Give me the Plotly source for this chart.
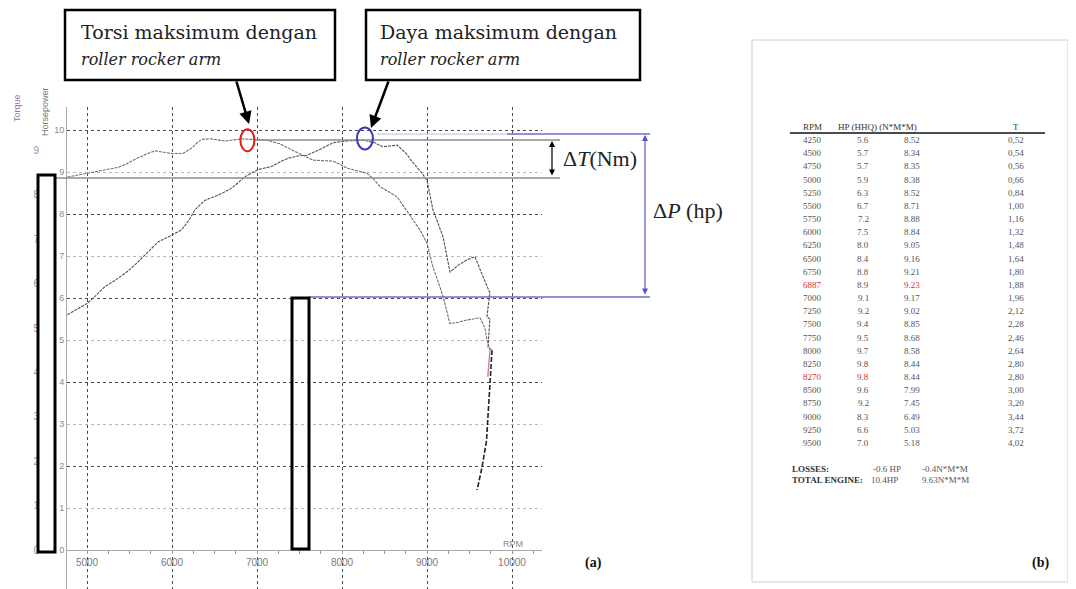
import plotly.graph_objects as go

# The page body has an 8px margin, so the figure is drawn 8px in from the window edge.
SCREEN_W, SCREEN_H = 1076, 589
OFF = 8
W, H = SCREEN_W - OFF, SCREEN_H - OFF

# ---------------- data ----------------
hp_rpm = [4770, 4900, 5000, 5100, 5210, 5330, 5450, 5570, 5680, 5840, 6000, 6110, 6200, 6270,
          6390, 6545, 6700, 6860, 7015, 7170, 7280, 7370, 7480, 7590, 7700, 7800, 7900, 8060,
          8250, 8380, 8480, 8560, 8650, 8750, 8840, 8930, 9000, 9070, 9190, 9270, 9380, 9480,
          9565, 9640, 9740, 9720, 9705, 9740, 9718, 9765]
hp_val = [5.60, 5.75, 5.87, 6.05, 6.27, 6.42, 6.59, 6.80, 7.02, 7.34, 7.50, 7.62, 7.85, 8.10,
          8.33, 8.45, 8.61, 8.89, 9.06, 9.13, 9.25, 9.33, 9.38, 9.40, 9.50, 9.60, 9.70, 9.74,
          9.76, 9.70, 9.60, 9.62, 9.64, 9.45, 9.21, 9.00, 8.80, 8.10, 7.45, 6.62, 6.80, 6.92,
          6.98, 6.60, 6.12, 5.80, 5.55, 5.50, 4.83, 4.76]
hp_tail_rpm = [9765, 9740, 9700, 9650, 9590]
hp_tail_val = [4.76, 3.80, 2.60, 2.00, 1.43]

tq_rpm = [4770, 4900, 5000, 5100, 5210, 5370, 5470, 5565, 5700, 5800, 5900, 6000, 6130, 6230,
          6300, 6350, 6470, 6550, 6620, 6700, 6820, 6887, 6980, 7100, 7170, 7270, 7380, 7470,
          7565, 7660, 7760, 7890, 7960, 8060, 8180, 8290, 8370, 8450, 8550, 8650, 8740, 8835,
          8920, 9000, 9070, 9130, 9190, 9270, 9370, 9470, 9560, 9624, 9680, 9706, 9741]
tq_val = [8.40, 8.45, 8.48, 8.52, 8.57, 8.62, 8.70, 8.80, 8.92, 8.99, 8.96, 8.93, 8.93, 9.05,
          9.18, 9.25, 9.26, 9.24, 9.21, 9.23, 9.26, 9.25, 9.25, 9.24, 9.20, 9.15, 9.04, 8.96,
          8.88, 8.78, 8.77, 8.76, 8.70, 8.60, 8.54, 8.49, 8.36, 8.18, 8.07, 7.95, 7.70, 7.43,
          7.20, 6.91, 6.37, 6.05, 5.70, 5.10, 5.13, 5.18, 5.20, 5.23, 5.00, 4.73, 4.50]
tq_tail_rpm = [9741, 9730, 9715]
tq_tail_val = [4.50, 4.20, 3.90]

x_ticks = [5000, 6000, 7000, 8000, 9000, 10000]
hp_ticks = list(range(0, 11))
tq_ticks = list(range(0, 10))

table_rpm = ["4250", "4500", "4750", "5000", "5250", "5500", "5750", "6000", "6250", "6500",
             "6750", "6887", "7000", "7250", "7500", "7750", "8000", "8250", "8270", "8500",
             "8750", "9000", "9250", "9500"]
table_hp = ["5.6", "5.7", "5.7", "5.9", "6.3", "6.7", "7.2", "7.5", "8.0", "8.4", "8.8", "8.9",
            "9.1", "9.2", "9.4", "9.5", "9.7", "9.8", "9.8", "9.6", "9.2", "8.3", "6.6", "7.0"]
table_tq = ["8.52", "8.34", "8.35", "8.38", "8.52", "8.71", "8.88", "8.84", "9.05", "9.16",
            "9.21", "9.23", "9.17", "9.02", "8.85", "8.68", "8.58", "8.44", "8.44", "7.99",
            "7.45", "6.49", "5.03", "5.18"]
table_t = ["0,52", "0,54", "0,56", "0,66", "0,84", "1,00", "1,16", "1,32", "1,48", "1,64",
           "1,80", "1,88", "1,96", "2,12", "2,28", "2,46", "2,64", "2,80", "2,80", "3,00",
           "3,20", "3,44", "3,72", "4,02"]
red_cells = {("6887", "rpm"), ("6887", "tq"), ("8270", "rpm"), ("8270", "hp")}

# ---------------- geometry helpers (screen pixel -> paper) ----------------
def fx(x):
    return (x - OFF) / W

def fy(y):
    return 1 - (y - OFF) / H

X_LEFT_PX, X_RIGHT_PX = 67, 542
PX_PER_RPM = 0.085
x_range = [5000 + (X_LEFT_PX - 87) / PX_PER_RPM, 5000 + (X_RIGHT_PX - 87) / PX_PER_RPM]
TOP_PX, ZERO_PX, BOT_PX = 107, 550, SCREEN_H
hp_range = [(ZERO_PX - BOT_PX) / 42.0, (ZERO_PX - TOP_PX) / 42.0]
tq_range = [(ZERO_PX - BOT_PX) / 44.4, (ZERO_PX - TOP_PX) / 44.4]

fig = go.Figure()
fig.add_trace(go.Scatter(x=tq_rpm, y=tq_val, mode="lines", yaxis="y2",
                         line=dict(color="#7a6680", width=1.1, dash="3px,1px")))
fig.add_trace(go.Scatter(x=tq_tail_rpm, y=tq_tail_val, mode="lines", yaxis="y2",
                         line=dict(color="#d070b0", width=1.3)))
fig.add_trace(go.Scatter(x=hp_rpm, y=hp_val, mode="lines", yaxis="y",
                         line=dict(color="#5a4e50", width=1.1, dash="3px,1px")))
fig.add_trace(go.Scatter(x=hp_tail_rpm, y=hp_tail_val, mode="lines", yaxis="y",
                         line=dict(color="#222222", width=1.6, dash="5px,2px")))
fig.add_trace(go.Scatter(x=[None], y=[None], yaxis="y3", hoverinfo="skip"))

grid_dark = "#4a4a4a"
grid_light = "#b8b8b8"

fig.update_layout(
    width=W, height=H,
    margin=dict(l=0, r=0, t=0, b=0, autoexpand=False),
    paper_bgcolor="white", plot_bgcolor="white",
    showlegend=False,
    xaxis=dict(domain=[fx(X_LEFT_PX), fx(X_RIGHT_PX)], range=x_range,
               anchor="free", position=fy(ZERO_PX),
               tickvals=x_ticks, ticktext=[str(v) for v in x_ticks],
               tickfont=dict(size=10, color="#7a7a7a", family="Liberation Sans"),
               showgrid=True, gridcolor=grid_dark, griddash="dot", gridwidth=1.4,
               showline=True, linecolor="#a8a8a8", linewidth=1, zeroline=False,
               ticks="outside", ticklen=3, tickcolor="#999",
               minor=dict(dtick=250, tick0=0, ticks="outside", ticklen=3, tickcolor="#999",
                          showgrid=False)),
    yaxis=dict(domain=[0, fy(TOP_PX)], range=hp_range, anchor="x", side="left",
               tickvals=hp_ticks, ticktext=[str(v) for v in hp_ticks],
               tickfont=dict(size=9, color="#8a8a8a", family="Liberation Sans"),
               showgrid=True, gridcolor=grid_light, griddash="dot", gridwidth=1.2,
               showline=True, linecolor="#a8a8a8", linewidth=1, zeroline=False,
               ticks=""),
    yaxis3=dict(overlaying="y", range=hp_range, anchor="x", side="left",
                tickvals=[0, 2, 4, 6, 8, 10], showticklabels=False,
                showgrid=True, gridcolor=grid_dark, griddash="dot", gridwidth=1.4,
                showline=False, zeroline=False, ticks=""),
    yaxis2=dict(overlaying="y", range=tq_range, anchor="free", position=fx(39), side="left",
                tickvals=tq_ticks, ticktext=[str(v) for v in tq_ticks],
                tickfont=dict(size=10, color="#a088ae", family="Liberation Sans"),
                showgrid=False, showline=False, zeroline=False, ticks=""),
)

shapes = []
ann = []

def text(x, y, t, size=10, color="#444", family="Liberation Serif", xanchor="center", **kw):
    ann.append(dict(x=fx(x), y=fy(y), xref="paper", yref="paper", text=t, showarrow=False,
                    font=dict(size=size, color=color, family=family), xanchor=xanchor,
                    yanchor="middle", **kw))

def line(x0, y0, x1, y1, color, width=1.0, dash="solid"):
    shapes.append(dict(type="line", xref="paper", yref="paper", x0=fx(x0), y0=fy(y0),
                       x1=fx(x1), y1=fy(y1), line=dict(color=color, width=width, dash=dash)))

def rect(x0, y0, x1, y1, color="black", width=3, fill="rgba(0,0,0,0)"):
    shapes.append(dict(type="rect", xref="paper", yref="paper", x0=fx(x0), y0=fy(y0),
                       x1=fx(x1), y1=fy(y1), line=dict(color=color, width=width), fillcolor=fill))

# axis titles
text(17, 108, "Torque", size=9, color="#a070b0", family="Liberation Sans", textangle=-90)
text(45, 112, "Horsepower", size=9, color="#777", family="Liberation Sans", textangle=-90)
text(513, 544, "RPM", size=9, color="#8a8a8a", family="Liberation Sans")

# reference lines
line(255, 140, 560, 140, "#8c8c8c", 1.5)
line(55, 178, 560, 178, "#8c8c8c", 1.5)
line(377, 134, 507, 134, "#b8bce0", 1.0)
line(507, 134, 650, 134, "#6b6bd0", 1.3)
line(309, 297, 650, 297, "#6b6bd0", 1.3)

# black rectangles
rect(38, 175, 55, 552)
rect(292, 298, 309, 549)

# circles at the maxima (data coordinates)
shapes.append(dict(type="circle", xref="x", yref="y2", xsizemode="pixel", ysizemode="pixel",
                   xanchor=6887, yanchor=9.23, x0=-7, x1=7, y0=-11, y1=11,
                   line=dict(color="#e02020", width=2)))
shapes.append(dict(type="circle", xref="x", yref="y", xsizemode="pixel", ysizemode="pixel",
                   xanchor=8270, yanchor=9.8, x0=-8, x1=8, y0=-11, y1=11,
                   line=dict(color="#3a3ab0", width=2)))

# callout boxes
rect(65, 10, 335, 80, width=2.5, fill="white")
rect(366, 10, 640, 80, width=2.5, fill="white")
text(79, 32, "Torsi maksimum dengan", size=19, color="#222", family="DejaVu Serif",
     xanchor="left")
text(79, 59, "<i>roller rocker arm</i>", size=16, color="#222", family="DejaVu Serif",
     xanchor="left")
text(378, 32, "Daya maksimum dengan", size=19, color="#222", family="DejaVu Serif",
     xanchor="left")
text(378, 59, "<i>roller rocker arm</i>", size=16, color="#222", family="DejaVu Serif",
     xanchor="left")

# arrows from callouts
ann.append(dict(x=fx(249), y=fy(124), xref="paper", yref="paper", ax=-13, ay=-44,
                axref="pixel", ayref="pixel", text="", showarrow=True, arrowhead=2,
                arrowsize=1, arrowwidth=2.5, arrowcolor="black"))
ann.append(dict(x=fx(371), y=fy(128), xref="paper", yref="paper", ax=18, ay=-48,
                axref="pixel", ayref="pixel", text="", showarrow=True, arrowhead=2,
                arrowsize=1, arrowwidth=2.5, arrowcolor="black"))

# delta arrows
ann.append(dict(x=fx(552), y=fy(141), xref="paper", yref="paper", ax=0, ay=36,
                axref="pixel", ayref="pixel", text="", showarrow=True, arrowhead=2,
                startarrowhead=2, arrowside="end+start", arrowsize=1, arrowwidth=1.2,
                arrowcolor="black"))
ann.append(dict(x=fx(645), y=fy(135), xref="paper", yref="paper", ax=0, ay=161,
                axref="pixel", ayref="pixel", text="", showarrow=True, arrowhead=2,
                startarrowhead=2, arrowside="end+start", arrowsize=1, arrowwidth=1.2,
                arrowcolor="#5555cc"))
text(600, 159, "Δ<i>T</i>(Nm)", size=22, color="#222")
text(688, 210, "Δ<i>P</i> (hp)", size=22, color="#222")

text(593, 563, "<b>(a)</b>", size=14, color="#111")

# ---------------- panel (b): table ----------------
rect(752, 40, 1068, 582, color="#d0d0d0", width=1)
COL_RPM, COL_HP, COL_TQ, COL_T = 812, 863, 912, 1016
text(COL_RPM, 127, "RPM", size=9, color="#333")
text(836, 127, "HP (HHQ) (N*M*M)", size=9, color="#333", xanchor="left")
text(COL_T, 127, "T", size=9, color="#333")
line(790, 133, 1045, 133, "#111", 1.6)
row0, dy = 140, 13.17
for i, r in enumerate(table_rpm):
    y = row0 + i * dy
    red = "#dd2a2a"
    grey = "#555"
    text(COL_RPM, y, r, size=9, color=red if (r, "rpm") in red_cells else grey)
    text(COL_HP, y, table_hp[i], size=9, color=red if (r, "hp") in red_cells else grey)
    text(COL_TQ, y, table_tq[i], size=9, color=red if (r, "tq") in red_cells else grey)
    text(COL_T, y, table_t[i], size=9, color=grey)
text(790, 469, "<b>LOSSES:</b>", size=9, color="#333", xanchor="left")
text(887, 469, "-0.6 HP", size=9, color="#555")
text(920, 469, "-0.4N*M*M", size=9, color="#555", xanchor="left")
text(790, 480, "<b>TOTAL ENGINE:</b>", size=9, color="#333", xanchor="left")
text(884, 480, "10.4HP", size=9, color="#555")
text(920, 480, "9.63N*M*M", size=9, color="#555", xanchor="left")
text(1040, 563, "<b>(b)</b>", size=14, color="#111")

fig.update_layout(shapes=shapes, annotations=ann)
fig.write_html("out.html")
